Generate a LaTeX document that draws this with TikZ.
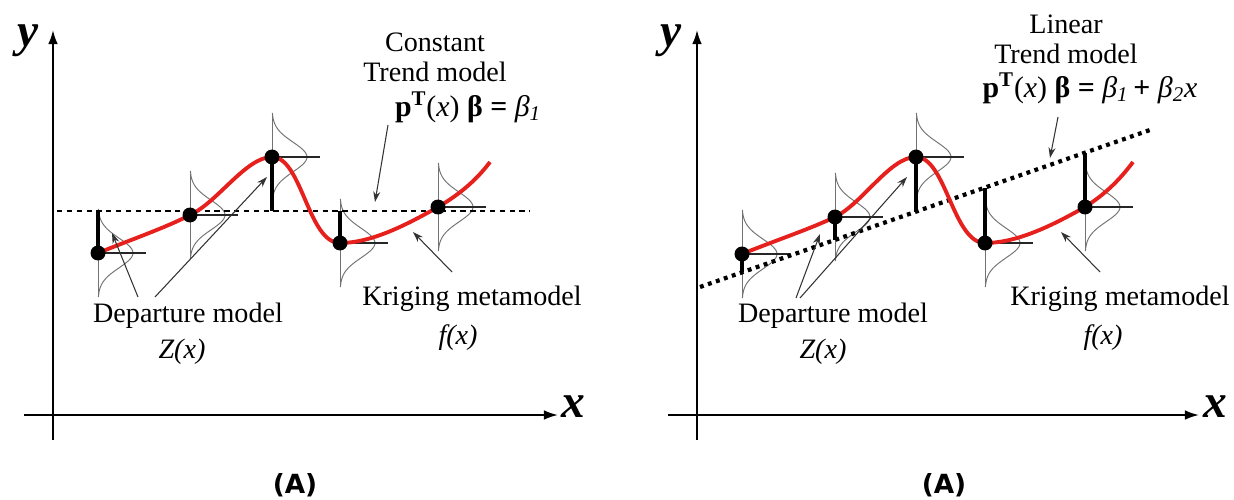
\documentclass[tikz,border=0pt]{standalone}
\usepackage{fontspec}
\setmainfont{Liberation Serif}
\newfontfamily\labfont{DejaVu Sans}
\usepackage{xcolor}
\usepackage{tikz}
\usetikzlibrary{arrows.meta,positioning,calc}
\definecolor{curvered}{RGB}{230,32,28}

\begin{document}
\begin{tikzpicture}[x=0.02cm, y=-0.02cm,
  axis/.style={draw=black, line width=1.1pt, -{Latex[length=8pt,width=5.5pt]}},
  axlabel/.style={font=\fontsize{27}{27}\selectfont\bfseries\itshape, inner sep=0pt},
  txt/.style={font=\fontsize{16}{17}\selectfont, align=center, inner sep=0pt},
  fml/.style={font=\fontsize{17}{18}\selectfont, inner sep=0pt},
  ptr/.style={draw=black!80, line width=0.6pt, -{Stealth[length=6pt,width=4pt]}},
  dot/.style={circle, fill=black, inner sep=0pt, minimum size=0.3cm},
  bar/.style={draw=black, line width=2.6pt},
  krig/.style={draw=curvered, line width=2.2pt},
  constline/.style={draw=black, line width=1.4pt, dash pattern=on 3pt off 2.6pt},
  linline/.style={draw=black, line width=2.4pt, dash pattern=on 2.2pt off 2.6pt},
  panel/.style={font=\labfont\fontsize{15}{15}\selectfont\bfseries, inner sep=0pt},
  bell/.pic={
    \draw[black!55, line width=0.55pt] (0,-44) -- (0,44);
    \draw[black!55, line width=0.55pt] plot[domain=-3:3, samples=40, smooth]
      ({35*exp(-0.5*(\x)*(\x))}, {14.7*\x});
    \draw[black!85, line width=0.75pt] (0,0) -- (48,0);
  },
]
\useasboundingbox (0,0) rectangle (1234,500);

% ---------- left panel: constant trend ----------
% Axes
\coordinate (yA0) at (53,440);
\coordinate (yA1) at (53,30);
\coordinate (xA0) at (24,415);
\coordinate (xA1) at (558,415);
\draw[axis] (yA0) -- (yA1);
\draw[axis] (xA0) -- (xA1);
\node[axlabel] (ylabA) at (28,41) {y};
\node[axlabel] (xlabA) at (573,407) {x};

% Sample points
\coordinate (a1) at (98,253);
\coordinate (a2) at (190,215);
\coordinate (a3) at (272,157);
\coordinate (a4) at (340,243);
\coordinate (a5) at (438,207);
\coordinate (aEnd) at (490,162);

\pic at (a1) {bell};
\pic at (a2) {bell};
\pic at (a3) {bell};
\pic at (a4) {bell};
\pic at (a5) {bell};

% Trend line
\coordinate (tA0) at (57,211);
\coordinate (tA1) at (530,211);
\draw[constline] (tA0) -- (tA1);

% Kriging curve
\draw[krig] (a1) .. controls (130,240) and (165,228) .. (a2)
  .. controls (218,202) and (246,157) .. (a3)
  .. controls (302,157) and (308,243) .. (a4)
  .. controls (372,243) and (408,224) .. (a5)
  .. controls (462,193) and (478,178) .. (aEnd);

% Departures
\coordinate (ta1) at (98,211);
\coordinate (ta3) at (272,211);
\coordinate (ta4) at (340,211);
\draw[bar] (a1) -- (ta1);
\draw[bar] (a3) -- (ta3);
\draw[bar] (a4) -- (ta4);

\node[dot] (da1) at (a1) {};
\node[dot] (da2) at (a2) {};
\node[dot] (da3) at (a3) {};
\node[dot] (da4) at (a4) {};
\node[dot] (da5) at (a5) {};

% Labels
\node[txt] (trendA) at (435,57) {Constant\\Trend model};
\node[fml] (fmlA) at (468,107) {{\bfseries p\textsuperscript{T}}(\textit{x}) {\bfseries β =} \textit{β\textsubscript{1}}};
\node[txt] (depA) at (188,316) {Departure model};
\node[txt] (zA) at (182,352) {\textit{Z(x)}};
\node[txt] (krA) at (472,299) {Kriging metamodel};
\node[txt] (fA) at (458,338) {\textit{f(x)}};
\node[panel] (capA) at (295,485) {(A)};

% Pointers
\coordinate (pA1s) at (138,297);
\coordinate (pA1e) at (112,233);
\coordinate (pA2s) at (155,297);
\coordinate (pA2e) at (267,177);
\coordinate (pA3s) at (388,125);
\coordinate (pA3e) at (375,202);
\coordinate (pA4s) at (452,272);
\coordinate (pA4e) at (413,232);
\draw[ptr] (pA1s) -- (pA1e);
\draw[ptr] (pA2s) -- (pA2e);
\draw[ptr] (pA3s) -- (pA3e);
\draw[ptr] (pA4s) -- (pA4e);

% ---------- right panel: linear trend ----------
% Axes
\coordinate (yB0) at (697,440);
\coordinate (yB1) at (697,30);
\coordinate (xB0) at (668,415);
\coordinate (xB1) at (1199,415);
\draw[axis] (yB0) -- (yB1);
\draw[axis] (xB0) -- (xB1);
\node[axlabel] (ylabB) at (671,41) {y};
\node[axlabel] (xlabB) at (1215,407) {x};

% Sample points
\coordinate (b1) at (742,254);
\coordinate (b2) at (835,217);
\coordinate (b3) at (916,157);
\coordinate (b4) at (985,243);
\coordinate (b5) at (1085,207);
\coordinate (bEnd) at (1133,162);

\pic at (b1) {bell};
\pic at (b2) {bell};
\pic at (b3) {bell};
\pic at (b4) {bell};
\pic at (b5) {bell};

% Trend line
\coordinate (tB0) at (700,287);
\coordinate (tB1) at (1150,130);
\draw[linline] (tB0) -- (tB1);

% Kriging curve
\draw[krig] (b1) .. controls (774,241) and (810,229) .. (b2)
  .. controls (863,203) and (890,157) .. (b3)
  .. controls (946,157) and (953,243) .. (b4)
  .. controls (1018,243) and (1055,224) .. (b5)
  .. controls (1107,193) and (1121,178) .. (bEnd);

% Departures
\coordinate (tb1) at (742,272);
\coordinate (tb2) at (835,240);
\coordinate (tb3) at (916,212);
\coordinate (tb4) at (985,188);
\coordinate (tb5) at (1085,153);
\draw[bar] (b1) -- (tb1);
\draw[bar] (b2) -- (tb2);
\draw[bar] (b3) -- (tb3);
\draw[bar] (b4) -- (tb4);
\draw[bar] (b5) -- (tb5);

\node[dot] (db1) at (b1) {};
\node[dot] (db2) at (b2) {};
\node[dot] (db3) at (b3) {};
\node[dot] (db4) at (b4) {};
\node[dot] (db5) at (b5) {};

% Labels
\node[txt] (trendB) at (1066,39) {Linear\\Trend model};
\node[fml] (fmlB) at (1090,88) {{\bfseries p\textsuperscript{T}}(\textit{x}) {\bfseries β =} \textit{β\textsubscript{1}}{\bfseries\,+} \textit{β\textsubscript{2}x}};
\node[txt] (depB) at (833,316) {Departure model};
\node[txt] (zB) at (823,352) {\textit{Z(x)}};
\node[txt] (krB) at (1120,299) {Kriging metamodel};
\node[txt] (fB) at (1103,338) {\textit{f(x)}};
\node[panel] (capB) at (944,485) {(A)};

% Pointers
\coordinate (pB1s) at (796,298);
\coordinate (pB1e) at (820,234);
\coordinate (pB2s) at (800,298);
\coordinate (pB2e) at (907,177);
\coordinate (pB3s) at (1058,117);
\coordinate (pB3e) at (1050,158);
\coordinate (pB4s) at (1100,272);
\coordinate (pB4e) at (1061,232);
\draw[ptr] (pB1s) -- (pB1e);
\draw[ptr] (pB2s) -- (pB2e);
\draw[ptr] (pB3s) -- (pB3e);
\draw[ptr] (pB4s) -- (pB4e);
\end{tikzpicture}
\end{document}
